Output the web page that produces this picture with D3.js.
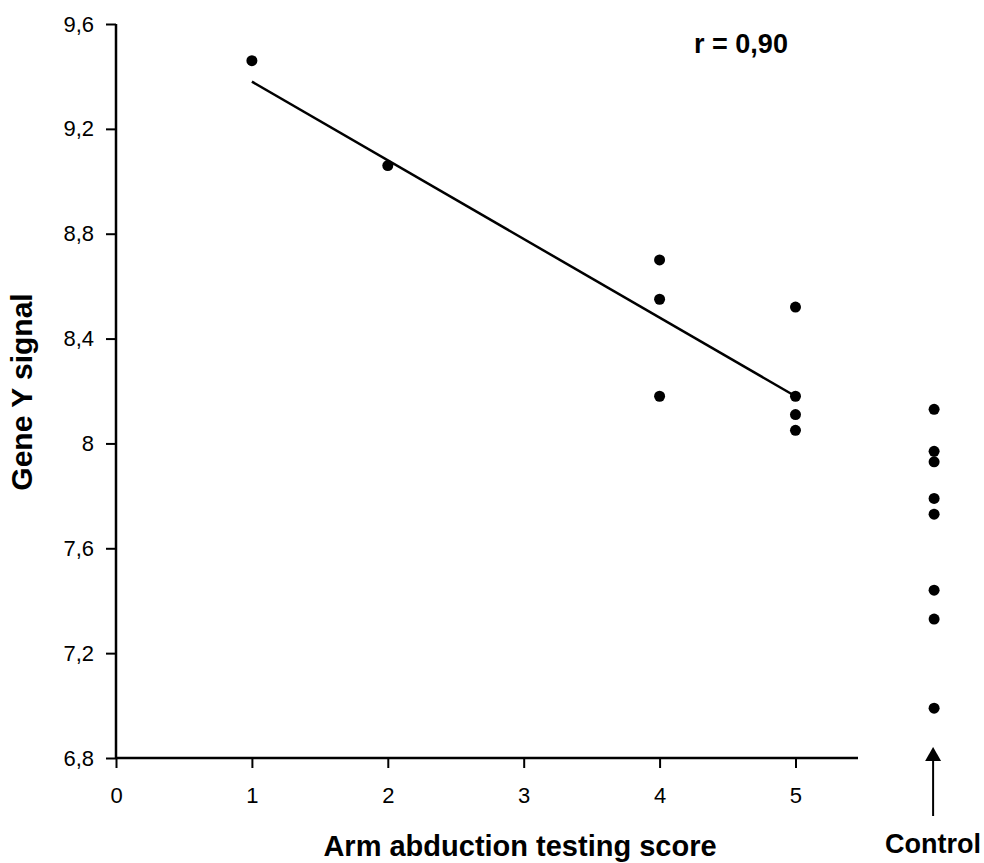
<!DOCTYPE html>
<html>
<head>
<meta charset="utf-8">
<script src="https://cdn.jsdelivr.net/npm/d3@7"></script>
<style>
  body { margin: 0; background: #fff; }
  text { font-family: "Liberation Sans", Arial, sans-serif; fill: #000; }
  .title { font-size: 29px; font-weight: bold; }
</style>
</head>
<body>
<div id="chart"></div>
<script>
// Patient scores and signals
const scoreX = [1, 2, 4, 4, 4, 5, 5, 5, 5];
const signalY = [9.46, 9.06, 8.70, 8.55, 8.18, 8.52, 8.18, 8.11, 8.05];

// Control group (drawn right of the axis)
const controlX = 6.02;
const controlY = [8.13, 7.97, 7.93, 7.79, 7.73, 7.44, 7.33, 6.99];

// Trend line endpoints
const trendX = [1, 5];
const trendY = [9.38, 8.18];

const xTicks = [0, 1, 2, 3, 4, 5];
const yTicks = [6.8, 7.2, 7.6, 8.0, 8.4, 8.8, 9.2, 9.6];

const width = 984, height = 863;
const margin = {top: 24, right: 126, bottom: 105, left: 116};

const svg = d3.select('#chart').append('svg')
    .attr('width', width)
    .attr('height', height);

const xScale = d3.scaleLinear()
    .domain([0, 5.46])
    .range([margin.left, width - margin.right]);

const yScale = d3.scaleLinear()
    .domain([6.8, 9.6])
    .range([height - margin.bottom, margin.top]);

const fmt = d => String(d3.format('.1~f')(d)).replace('.', ',');

// Axes
const xAxis = d3.axisBottom(xScale)
    .tickValues(xTicks)
    .tickFormat(d => d)
    .tickSize(10)
    .tickPadding(19);

const yAxis = d3.axisLeft(yScale)
    .tickValues(yTicks)
    .tickFormat(fmt)
    .tickSize(10)
    .tickPadding(12);

const xg = svg.append('g')
    .attr('transform', `translate(0, ${yScale(6.8)})`)
    .call(xAxis);
const yg = svg.append('g')
    .attr('transform', `translate(${xScale(0)}, 0)`)
    .call(yAxis);

[xg, yg].forEach(g => {
  g.attr('font-size', 22).attr('font-family', '"Liberation Sans", Arial, sans-serif');
  g.select('.domain').attr('stroke', '#000').attr('stroke-width', 2.5);
  g.selectAll('.tick line').attr('stroke', '#000').attr('stroke-width', 2);
  g.selectAll('.tick text').attr('font-size', 22);
});
xg.select('.domain').attr('d', `M${xScale(0)},0H${xScale(5.46)}`);
yg.select('.domain').attr('d', `M0,${yScale(6.8)}V${yScale(9.6)}`);

// Trend line
const line = d3.line()
    .x(d => xScale(d[0]))
    .y(d => yScale(d[1]));
svg.append('path')
    .datum(d3.zip(trendX, trendY))
    .attr('fill', 'none')
    .attr('stroke', '#000')
    .attr('stroke-width', 2.5)
    .attr('d', line);

// Points
svg.append('g').selectAll('circle')
    .data(d3.zip(scoreX, signalY))
    .enter().append('circle')
    .attr('cx', d => xScale(d[0]))
    .attr('cy', d => yScale(d[1]))
    .attr('r', 5.5)
    .attr('fill', '#000');

svg.append('g').selectAll('circle')
    .data(controlY)
    .enter().append('circle')
    .attr('cx', xScale(controlX))
    .attr('cy', d => yScale(d))
    .attr('r', 5.5)
    .attr('fill', '#000');

// Arrow pointing at the control group
const ax = xScale(controlX) - 1;
const arrowTop = yScale(6.8) - 11;
svg.append('path')
    .attr('d', `M${ax},${arrowTop} L${ax - 8},${arrowTop + 14} L${ax + 8},${arrowTop + 14} Z`)
    .attr('fill', '#000');
svg.append('line')
    .attr('x1', ax).attr('x2', ax)
    .attr('y1', arrowTop + 12).attr('y2', arrowTop + 69)
    .attr('stroke', '#000')
    .attr('stroke-width', 2);

// Labels
svg.append('text')
    .attr('class', 'title')
    .style('font-size', '27px')
    .attr('x', ax)
    .attr('y', 853)
    .attr('text-anchor', 'middle')
    .text('Control');

svg.append('text')
    .attr('class', 'title')
    .attr('x', 520)
    .attr('y', 856)
    .attr('text-anchor', 'middle')
    .text('Arm abduction testing score');

svg.append('text')
    .attr('class', 'title')
    .style('font-size', '30px')
    .attr('transform', `translate(32, 392) rotate(-90)`)
    .attr('text-anchor', 'middle')
    .text('Gene Y signal');

svg.append('text')
    .attr('class', 'title')
    .style('font-size', '27px')
    .attr('x', 741)
    .attr('y', 53)
    .attr('text-anchor', 'middle')
    .text('r = 0,90');
</script>
</body>
</html>
